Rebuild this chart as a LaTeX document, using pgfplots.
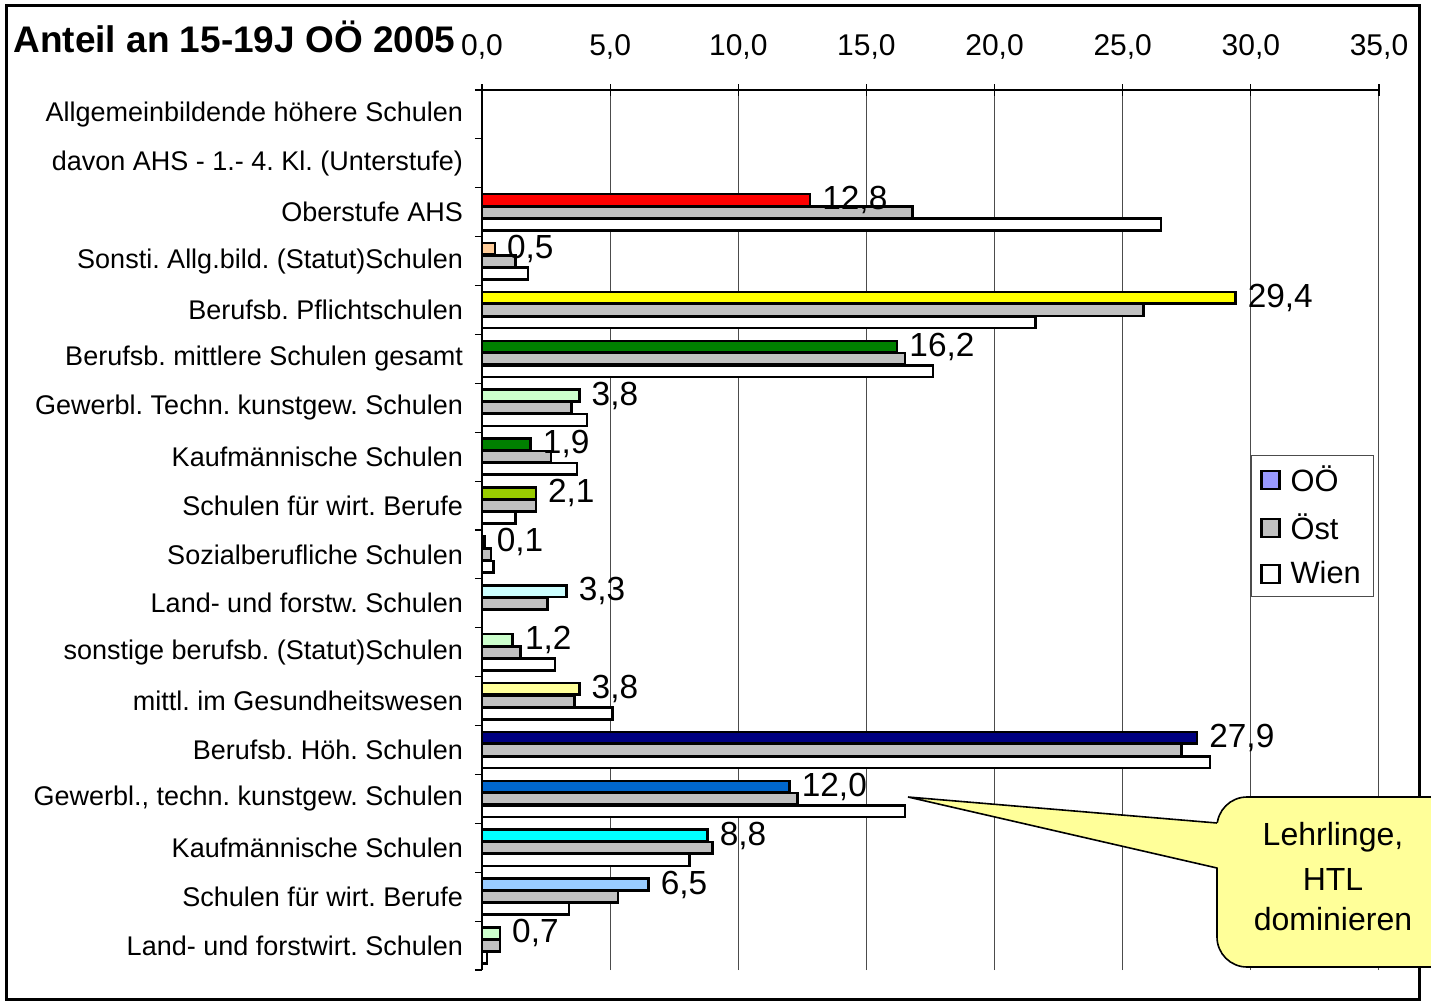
\documentclass[border=0pt]{standalone}
\usepackage{pgfplots}
\pgfplotsset{compat=1.18}
\usepackage{fontspec}
\setmainfont{Liberation Sans}
\frenchspacing
\definecolor{cRed}{HTML}{FF0000}
\definecolor{cPeach}{HTML}{FFCC99}
\definecolor{cYellow}{HTML}{FFFF00}
\definecolor{cGreen}{HTML}{008000}
\definecolor{cLGreen}{HTML}{CCFFCC}
\definecolor{cYGreen}{HTML}{99CC00}
\definecolor{cSoz}{HTML}{333399}
\definecolor{cLCyan}{HTML}{CCFFFF}
\definecolor{cLYellow}{HTML}{FFFF99}
\definecolor{cNavy}{HTML}{000080}
\definecolor{cBlue}{HTML}{0066CC}
\definecolor{cCyan}{HTML}{00FFFF}
\definecolor{cLBlue}{HTML}{99CCFF}
\definecolor{cGray}{HTML}{C0C0C0}
\definecolor{cLeg}{HTML}{9999FF}
\definecolor{cCallout}{HTML}{FFFF99}
\pgfplotsset{
  bb/.style={xbar, bar width=0.24, draw=black, line width=1.3pt, forget plot},
  oo/.style={bb, bar shift=0.25,
    nodes near coords={\pgfmathprintnumber[fixed,fixed zerofill,precision=1,use comma]{\pgfplotspointmeta}},
    every node near coord/.append style={font=\fontsize{16.7}{19}\selectfont, anchor=west, black, inner sep=0pt, xshift=5.5pt, yshift=6.1pt}},
}
\begin{document}
\begin{tikzpicture}[x=0.5pt,y=-0.5pt]
\useasboundingbox (0,0) rectangle (1431,1002);
\fill[white] (0,0) rectangle (1431,1002);
\draw[line width=1.5pt] (6,5) rectangle (1419,999);
\node[anchor=west, inner sep=0pt, font=\bfseries\fontsize{18.5}{22}\selectfont] at (13,37) {Anteil an 15-19J OÖ 2005};
\begin{axis}[
  at={(241pt,-45pt)}, anchor=north west,
  scale only axis, width=448.5pt, height=440pt,
  xmin=0, xmax=35, ymin=-0.5, ymax=17.5,
  clip=false,
  axis x line*=top, axis y line*=left,
  axis line style={line width=0.8pt},
  /pgf/number format/assume math mode=true,
  xtick={0,5,...,35},
  xticklabel={\pgfmathprintnumber[fixed,fixed zerofill,precision=1,use comma]{\tick}},
  xtick align=center, major tick length=6pt,
  xtick style={black, line width=0.6pt},
  xticklabel style={font=\fontsize{15}{18}\selectfont, yshift=9pt},
  xmajorgrids, grid style={black!70, line width=0.5pt},
  ytick={0,...,17},
  yticklabels={Land- und forstwirt. Schulen, Schulen für wirt. Berufe, Kaufmännische Schulen, {Gewerbl., techn. kunstgew. Schulen}, Berufsb. Höh. Schulen, mittl. im Gesundheitswesen, sonstige berufsb. (Statut)Schulen, Land- und forstw. Schulen, Sozialberufliche Schulen, Schulen für wirt. Berufe, Kaufmännische Schulen, Gewerbl. Techn. kunstgew. Schulen, Berufsb. mittlere Schulen gesamt, Berufsb. Pflichtschulen, Sonsti. Allg.bild. (Statut)Schulen, Oberstufe AHS, davon AHS - 1.- 4. Kl. (Unterstufe), Allgemeinbildende höhere Schulen},
  ytick style={draw=none},
  yticklabel style={font=\fontsize{13.5}{16}\selectfont, xshift=-6pt},
  extra y ticks={-0.5,0.5,...,17.5},
  extra y tick labels={},
  extra y tick style={ytick style={draw=black, line width=0.6pt}, tick align=outside, major tick length=3.5pt},
  legend image code/.code={\draw[#1, line width=1.2pt] (0pt,-4.5pt) rectangle (9pt,4.5pt);},
  legend style={at={(0.857,0.585)}, anchor=north west, draw=black!70, line width=0.5pt, fill=white,
    font=\fontsize{15.4}{18}\selectfont, inner xsep=4.5pt, inner ysep=3pt, row sep=5.5pt,
    /tikz/every odd column/.append style={column sep=3pt}},
  legend cell align=left,
]
% OÖ (individual colours)
\addplot[oo, fill=cRed] coordinates {(12.8,15)};
\addplot[oo, fill=cPeach] coordinates {(0.5,14)};
\addplot[oo, fill=cYellow] coordinates {(29.4,13)};
\addplot[oo, fill=cGreen] coordinates {(16.2,12)};
\addplot[oo, fill=cLGreen] coordinates {(3.8,11)};
\addplot[oo, fill=cGreen] coordinates {(1.9,10)};
\addplot[oo, fill=cYGreen] coordinates {(2.1,9)};
\addplot[oo, fill=cSoz] coordinates {(0.1,8)};
\addplot[oo, fill=cLCyan] coordinates {(3.3,7)};
\addplot[oo, fill=cLGreen] coordinates {(1.2,6)};
\addplot[oo, fill=cLYellow] coordinates {(3.8,5)};
\addplot[oo, fill=cNavy] coordinates {(27.9,4)};
\addplot[oo, fill=cBlue] coordinates {(12.0,3)};
\addplot[oo, fill=cCyan] coordinates {(8.8,2)};
\addplot[oo, fill=cLBlue] coordinates {(6.5,1)};
\addplot[oo, fill=cLGreen] coordinates {(0.7,0)};
% Öst
\addplot[bb, bar shift=0, fill=cGray] coordinates {
(16.8,15) (1.3,14) (25.8,13) (16.5,12) (3.5,11) (2.7,10) (2.1,9) (0.35,8) (2.55,7) (1.5,6) (3.6,5) (27.3,4) (12.3,3) (9.0,2) (5.3,1) (0.7,0)};
% Wien
\addplot[bb, bar shift=-0.25, fill=white] coordinates {
(26.5,15) (1.8,14) (21.6,13) (17.6,12) (4.1,11) (3.7,10) (1.3,9) (0.45,8) (2.85,6) (5.1,5) (28.4,4) (16.5,3) (8.1,2) (3.4,1) (0.2,0)};
\addlegendimage{fill=cLeg, draw=black}
\addlegendentry{OÖ}
\addlegendimage{fill=cGray, draw=black}
\addlegendentry{Öst}
\addlegendimage{fill=white, draw=black}
\addlegendentry{Wien}
\end{axis}
% callout
\draw[fill=cCallout, line width=0.8pt, rounded corners=15pt] (1217,797) rectangle (1470,967);
\fill[cCallout] (1220,823) -- (908,797) -- (1220,868) -- cycle;
\draw[line width=0.8pt] (1217,823) -- (908,797) -- (1217,868);
\node[anchor=base, inner sep=0pt, font=\fontsize{16}{19}\selectfont] at (1333,845) {Lehrlinge,};
\node[anchor=base, inner sep=0pt, font=\fontsize{16}{19}\selectfont] at (1333,890) {HTL};
\node[anchor=base, inner sep=0pt, font=\fontsize{16}{19}\selectfont] at (1333,930) {dominieren};
\end{tikzpicture}
\end{document}
